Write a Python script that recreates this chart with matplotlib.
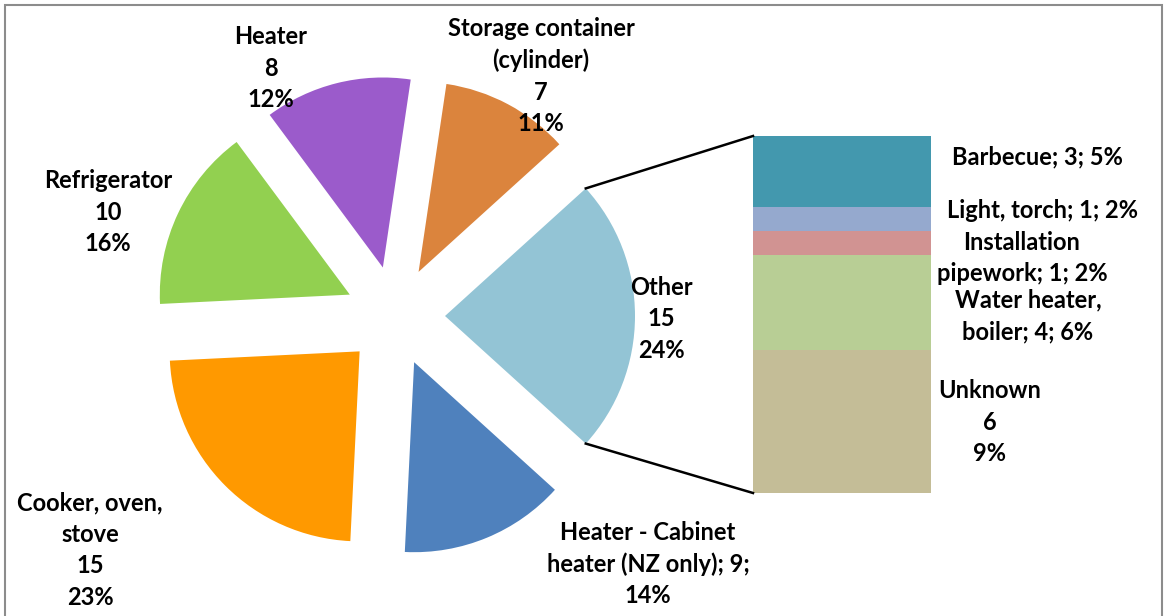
import numpy as np
import matplotlib.pyplot as plt
from matplotlib.patches import Rectangle

# pie part (clockwise from "Other")
pie_names = ["Other", "Heater - Cabinet heater (NZ only)", "Cooker, oven, stove",
             "Refrigerator", "Heater", "Storage container (cylinder)"]
pie_values = [15, 9, 15, 10, 8, 7]
pie_pcts = [24, 14, 23, 16, 12, 11]
pie_colors = ["#93C4D5", "#4F81BD", "#FF9900", "#92D050", "#9B5BCB", "#DB843D"]

# breakdown of "Other" (top to bottom)
bar_names = ["Barbecue", "Light, torch", "Installation pipework", "Water heater, boiler", "Unknown"]
bar_values = [3, 1, 1, 4, 6]
bar_pcts = [5, 2, 2, 6, 9]
bar_colors = ["#4398AE", "#95A9CE", "#D19392", "#B8CE95", "#C4BD97"]

total = sum(pie_values)
H = 616

plt.rcParams['font.family'] = ['Lato', 'DejaVu Sans']
fig = plt.figure(figsize=(11.65, 6.16), dpi=100)
ax = fig.add_axes([0, 0, 1, 1])

start = 360 * pie_values[0] / total / 2
wedges, _ = ax.pie(pie_values, colors=pie_colors, startangle=start, counterclock=False,
                   explode=[50] * len(pie_values), radius=190, center=(395, H - 316),
                   frame=True, wedgeprops=dict(linewidth=0))
ax.set_xlim(0, 1165)
ax.set_ylim(0, H)
ax.set_aspect('equal')
ax.axis('off')

# stacked bar for "Other"
bx, bw = 753, 178
btop, bbot = H - 136, H - 493
unit = (btop - bbot) / sum(bar_values)
y = btop
for v, c in zip(bar_values, bar_colors):
    ax.bar(bx, -v * unit, width=bw, bottom=y, align='edge', color=c, linewidth=0)
    y -= v * unit

# connector lines from the "Other" wedge to the bar
w = wedges[0]
cx, cy = w.center
for ang, yb in [(w.theta2, btop), (w.theta1, bbot)]:
    px = cx + w.r * np.cos(np.radians(ang))
    py = cy + w.r * np.sin(np.radians(ang))
    ax.plot([px, bx], [py, yb], color="black", lw=1.8)

tk = dict(fontsize=17, fontweight='bold', linespacing=1.45, va='center')
ax.text(661, H - 319, f"Other\n{pie_values[0]}\n{pie_pcts[0]}%", ha='center', **tk)
ax.text(648, H - 564, f"Heater - Cabinet\nheater (NZ only); {pie_values[1]};\n{pie_pcts[1]}%", ha='center', **tk)
ax.text(90, H - 550, f"Cooker, oven,\nstove\n{pie_values[2]}\n{pie_pcts[2]}%", ha='center', **tk)
ax.text(108, H - 212, f"Refrigerator\n{pie_values[3]}\n{pie_pcts[3]}%", ha='center', **tk)
ax.text(271, H - 68, f"Heater\n{pie_values[4]}\n{pie_pcts[4]}%", ha='center', **tk)
ax.text(541, H - 76, f"Storage container\n(cylinder)\n{pie_values[5]}\n{pie_pcts[5]}%", ha='center', **tk)

ax.text(952, H - 157, f"Barbecue; {bar_values[0]}; {bar_pcts[0]}%", ha='left', **tk)
ax.text(947, H - 211, f"Light, torch; {bar_values[1]}; {bar_pcts[1]}%", ha='left', **tk)
ax.text(1022, H - 258, f"Installation\npipework; {bar_values[2]}; {bar_pcts[2]}%", ha='center', **tk)
ax.text(1028, H - 316, f"Water heater,\nboiler; {bar_values[3]}; {bar_pcts[3]}%", ha='center', **tk)
ax.text(990, H - 422, f"Unknown\n{bar_values[4]}\n{bar_pcts[4]}%", ha='center', **tk)

# chart border
fig.patches.append(Rectangle((5 / 1165, -0.01), 1157 / 1165, (H - 5) / H + 0.01,
                             transform=fig.transFigure, fill=False, edgecolor="#8C8C8C", lw=1.5))

fig.savefig("out.png", dpi=100)
